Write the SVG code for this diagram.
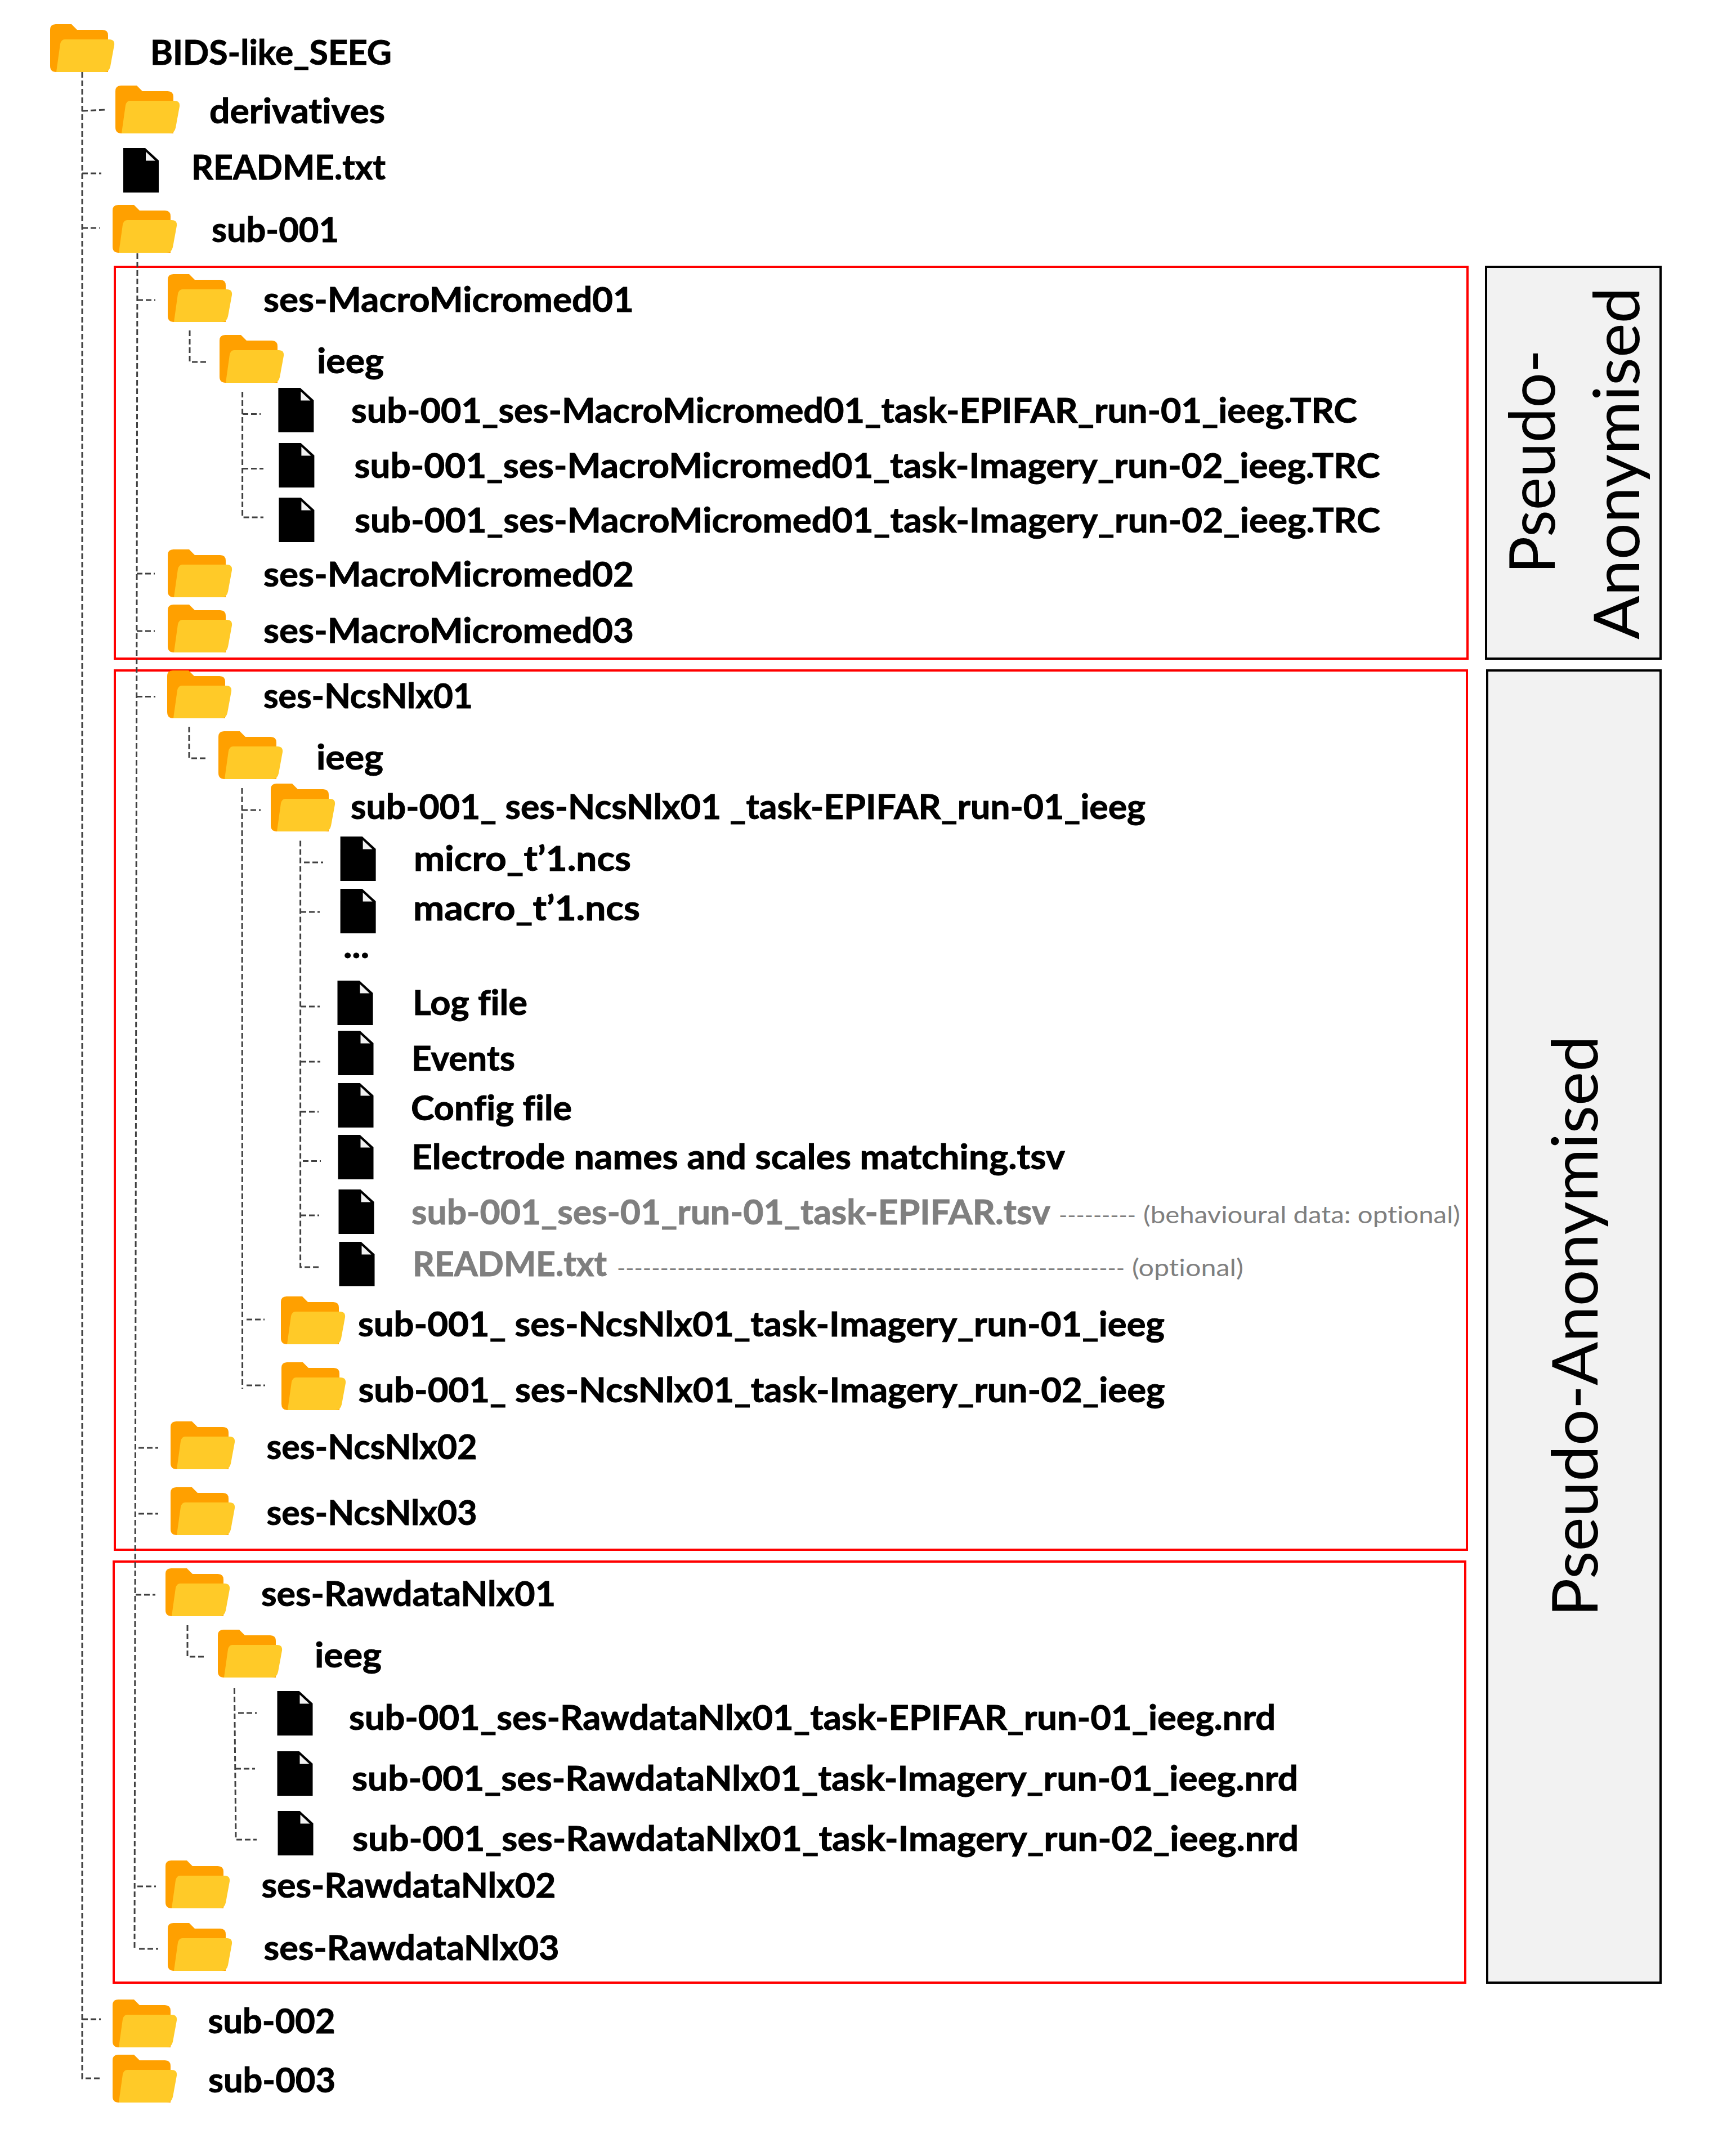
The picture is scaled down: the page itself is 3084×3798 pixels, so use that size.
<svg xmlns="http://www.w3.org/2000/svg" width="3084" height="3798" viewBox="0 0 3084 3798">
<style>
text{font-family:"Lato","Carlito","Liberation Sans",sans-serif;font-size:61px;font-weight:700;fill:#000;stroke:#000;stroke-width:1;font-variant-ligatures:none}
text.g{fill:#7f7f7f;stroke:#7f7f7f}
text.n{font-weight:400;font-size:43px;fill:#7f7f7f;stroke:none}
text.d{font-size:36px}
text.side{font-weight:400;font-size:112px;fill:#000;stroke:none}
.c path{fill:none;stroke:#404040;stroke-width:3;stroke-dasharray:10 5}
.red{fill:none;stroke:#f00;stroke-width:4}
.band{fill:#f2f2f2;stroke:#000;stroke-width:4}
</style>
<defs>
<g id="folder"><path fill="#ffa000" d="M10 0H38L48 10H93Q103 10 103 20V85H11Q0 85 0 74V10Q0 0 10 0Z"/><path fill="#ffca28" d="M26 27H105Q115 27 114 37L107 75Q105 85 96 85H11L18 35Q20 27 26 27Z"/></g>
<g id="file"><path fill="#000" d="M0 0H39L63 22V79H0Z"/><path fill="#f2f2f2" d="M40 6.6V22.4H57Z"/></g>
</defs>
<g id="regions">
<rect class="red" x="204" y="474" width="2403" height="696"/>
<rect class="red" x="204" y="1191" width="2402" height="1562"/>
<rect class="red" x="202" y="2774" width="2401" height="748"/>
</g>
<g id="band-1"><rect class="band" x="2640" y="474" width="310" height="696"/><text class="side" transform="translate(2762 1019) rotate(-90)" textLength="398" lengthAdjust="spacingAndGlyphs">Pseudo-</text><text class="side" transform="translate(2912 1136) rotate(-90)" textLength="626" lengthAdjust="spacingAndGlyphs">Anonymised</text></g>
<g id="band-2"><rect class="band" x="2642" y="1191" width="308" height="2331"/><text class="side" transform="translate(2838 2872) rotate(-90)" textLength="1032" lengthAdjust="spacingAndGlyphs">Pseudo-Anonymised</text></g>
<g id="connectors" class="c">
<path d="M146 128V3692H179"/>
<path d="M146 197L186 195M146 308H180M146 405H177M146 3587H179"/>
<path d="M244 450L239 3460"/>
<path d="M244 533H276M243 1019H275M243 1121H275M243 1237.5H276M246 2572H281M246 2689H281M241 2833H276M244 3351H277M247 3462H281"/>
<path d="M337 587V643H370M336 1291V1347H368M333 2887V2943H366"/>
<path d="M430.6 696V919H468M431 735.5H463M431 832.5H468"/>
<path d="M430 1400L430.6 2467M430 1439H463M438 2344H470M438 2461H471"/>
<path d="M533.6 1493.5V2251H571M540 1532H574M534 1620H568M534 1788H568M534 1886H569M534 1975H566M538 2062.5H570M534 2159H567"/>
<path d="M416.4 2999L419 3268H456M423 3043H456M418 3142H453"/>
</g>
<g id="root"><use href="#folder" x="89" y="43"/><text x="267" y="115" textLength="429" lengthAdjust="spacingAndGlyphs">BIDS-like_SEEG</text></g>
<g id="derivatives"><use href="#folder" x="205" y="152"/><text x="372" y="219" textLength="312" lengthAdjust="spacingAndGlyphs">derivatives</text></g>
<g id="readme-root"><use href="#file" x="219" y="263"/><text x="340" y="319" textLength="345" lengthAdjust="spacingAndGlyphs">README.txt</text></g>
<g id="sub-001"><use href="#folder" x="200" y="364"/><text x="376" y="430" textLength="226" lengthAdjust="spacingAndGlyphs">sub-001</text></g>
<g id="macro-01"><use href="#folder" x="298" y="487"/><text x="468" y="554" textLength="658" lengthAdjust="spacingAndGlyphs">ses-MacroMicromed01</text></g>
<g id="macro-ieeg"><use href="#folder" x="390" y="595"/><text x="563" y="662.5" textLength="119" lengthAdjust="spacingAndGlyphs">ieeg</text></g>
<g id="trc-1"><use href="#file" x="494.4" y="689"/><text x="624" y="751" textLength="1787" lengthAdjust="spacingAndGlyphs">sub-001_ses-MacroMicromed01_task-EPIFAR_run-01_ieeg.TRC</text></g>
<g id="trc-2"><use href="#file" x="495.4" y="787"/><text x="629.6" y="848.5" textLength="1822" lengthAdjust="spacingAndGlyphs">sub-001_ses-MacroMicromed01_task-Imagery_run-02_ieeg.TRC</text></g>
<g id="trc-3"><use href="#file" x="495.4" y="884"/><text x="630" y="946" textLength="1822" lengthAdjust="spacingAndGlyphs">sub-001_ses-MacroMicromed01_task-Imagery_run-02_ieeg.TRC</text></g>
<g id="macro-02"><use href="#folder" x="298" y="976"/><text x="468" y="1041.6" textLength="658" lengthAdjust="spacingAndGlyphs">ses-MacroMicromed02</text></g>
<g id="macro-03"><use href="#folder" x="298" y="1074"/><text x="468" y="1141.6" textLength="658" lengthAdjust="spacingAndGlyphs">ses-MacroMicromed03</text></g>
<g id="ncs-01"><use href="#folder" x="297" y="1191"/><text x="468" y="1258" textLength="372" lengthAdjust="spacingAndGlyphs">ses-NcsNlx01</text></g>
<g id="ncs-ieeg"><use href="#folder" x="388" y="1299"/><text x="562" y="1367" textLength="119" lengthAdjust="spacingAndGlyphs">ieeg</text></g>
<g id="ncs-epifar"><use href="#folder" x="481" y="1392"/><text x="623" y="1455" textLength="1412" lengthAdjust="spacingAndGlyphs" xml:space="preserve">sub-001_ ses-NcsNlx01 _task-EPIFAR_run-01_ieeg</text></g>
<g id="micro"><use href="#file" x="604.6" y="1486"/><text x="735" y="1547" textLength="386" lengthAdjust="spacingAndGlyphs">micro_t’1.ncs</text></g>
<g id="macro"><use href="#file" x="604.6" y="1579"/><text x="734" y="1635" textLength="403" lengthAdjust="spacingAndGlyphs">macro_t’1.ncs</text></g>
<g id="ellipsis"><text x="610" y="1702" textLength="46" lengthAdjust="spacingAndGlyphs">...</text></g>
<g id="log"><use href="#file" x="599.5" y="1742"/><text x="733" y="1803" textLength="204" lengthAdjust="spacingAndGlyphs">Log file</text></g>
<g id="events"><use href="#file" x="600.5" y="1831"/><text x="731" y="1901.7" textLength="184" lengthAdjust="spacingAndGlyphs">Events</text></g>
<g id="config"><use href="#file" x="600.5" y="1924"/><text x="730" y="1989.5" textLength="286" lengthAdjust="spacingAndGlyphs">Config file</text></g>
<g id="electrode"><use href="#file" x="600.5" y="2016"/><text x="731" y="2077" textLength="1161" lengthAdjust="spacingAndGlyphs">Electrode names and scales matching.tsv</text></g>
<g id="behav"><use href="#file" x="601.5" y="2113"/><text class="g" x="731" y="2175" textLength="1135" lengthAdjust="spacingAndGlyphs">sub-001_ses-01_run-01_task-EPIFAR.tsv</text><text class="n d" x="1881" y="2172" textLength="137" lengthAdjust="spacingAndGlyphs">---------</text><text class="n" x="2031" y="2173" textLength="563" lengthAdjust="spacingAndGlyphs">(behavioural data: optional)</text></g>
<g id="readme-ncs"><use href="#file" x="602.5" y="2206"/><text class="g" x="733" y="2267" textLength="345" lengthAdjust="spacingAndGlyphs">README.txt</text><text class="n d" x="1096" y="2266" textLength="902" lengthAdjust="spacingAndGlyphs">-----------------------------------------------------------</text><text class="n" x="2011" y="2267" textLength="198" lengthAdjust="spacingAndGlyphs">(optional)</text></g>
<g id="ncs-img1"><use href="#folder" x="499" y="2303"/><text x="636" y="2373.5" textLength="1433" lengthAdjust="spacingAndGlyphs" xml:space="preserve">sub-001_ ses-NcsNlx01_task-Imagery_run-01_ieeg</text></g>
<g id="ncs-img2"><use href="#folder" x="500" y="2420"/><text x="636.5" y="2491" textLength="1433" lengthAdjust="spacingAndGlyphs" xml:space="preserve">sub-001_ ses-NcsNlx01_task-Imagery_run-02_ieeg</text></g>
<g id="ncs-02"><use href="#folder" x="303" y="2525"/><text x="473.5" y="2592" textLength="374" lengthAdjust="spacingAndGlyphs">ses-NcsNlx02</text></g>
<g id="ncs-03"><use href="#folder" x="303" y="2642"/><text x="473.5" y="2708.6" textLength="374" lengthAdjust="spacingAndGlyphs">ses-NcsNlx03</text></g>
<g id="raw-01"><use href="#folder" x="294" y="2786"/><text x="464" y="2853" textLength="523" lengthAdjust="spacingAndGlyphs">ses-RawdataNlx01</text></g>
<g id="raw-ieeg"><use href="#folder" x="387" y="2895"/><text x="559" y="2962" textLength="119" lengthAdjust="spacingAndGlyphs">ieeg</text></g>
<g id="nrd-1"><use href="#file" x="492.5" y="3004"/><text x="620" y="3073" textLength="1646" lengthAdjust="spacingAndGlyphs">sub-001_ses-RawdataNlx01_task-EPIFAR_run-01_ieeg.nrd</text></g>
<g id="nrd-2"><use href="#file" x="492.5" y="3111"/><text x="625" y="3181" textLength="1681" lengthAdjust="spacingAndGlyphs">sub-001_ses-RawdataNlx01_task-Imagery_run-01_ieeg.nrd</text></g>
<g id="nrd-3"><use href="#file" x="493.5" y="3217"/><text x="626" y="3288" textLength="1681" lengthAdjust="spacingAndGlyphs">sub-001_ses-RawdataNlx01_task-Imagery_run-02_ieeg.nrd</text></g>
<g id="raw-02"><use href="#folder" x="294" y="3305"/><text x="464.4" y="3371" textLength="523" lengthAdjust="spacingAndGlyphs">ses-RawdataNlx02</text></g>
<g id="raw-03"><use href="#folder" x="298" y="3416"/><text x="468.5" y="3482" textLength="525" lengthAdjust="spacingAndGlyphs">ses-RawdataNlx03</text></g>
<g id="sub-002"><use href="#folder" x="200" y="3552"/><text x="369.5" y="3611.6" textLength="226" lengthAdjust="spacingAndGlyphs">sub-002</text></g>
<g id="sub-003"><use href="#folder" x="200" y="3650"/><text x="370" y="3717" textLength="226" lengthAdjust="spacingAndGlyphs">sub-003</text></g>
</svg>
